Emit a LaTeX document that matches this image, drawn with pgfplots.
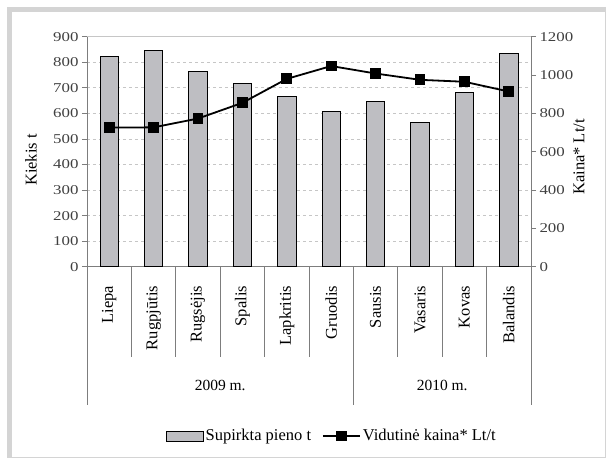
\documentclass[border=0pt]{standalone}
\usepackage{fontspec}
\setmainfont{Liberation Serif}
\newfontfamily\tickfont[FakeStretch=1.25]{Liberation Serif}
\usepackage{pgfplots}
\pgfplotsset{compat=1.18}
\definecolor{barfill}{RGB}{190,190,194}
\definecolor{framegray}{RGB}{212,212,212}
\definecolor{axisgray}{RGB}{125,125,125}

\begin{document}
\begin{tikzpicture}
\path[use as bounding box] (0,0) rectangle (606pt,459pt);
% frame round the chart
\fill[framegray] (7pt,2pt) rectangle (12pt,452pt);
\fill[framegray] (7pt,447pt) rectangle (606pt,452pt);
\draw[framegray, line width=1pt] (605pt,452pt) -- (605pt,2pt) -- (7pt,2pt);

\begin{axis}[
    at={(87pt,192.3pt)}, anchor=south west,
    scale only axis, width=444pt, height=230pt,
    xmin=-0.5, xmax=9.5, ymin=0, ymax=900,
    ytick distance=100,
    axis x line*=bottom, axis y line*=left,
    axis line style={axisgray, line width=0.8pt},
    xtick={0,...,9},
    xticklabels={Liepa,Rugpjūtis,Rugsėjis,Spalis,Lapkritis,Gruodis,Sausis,Vasaris,Kovas,Balandis},
    x tick style={draw=none},
    x tick label style={rotate=90, anchor=east, inner sep=0pt, font=\fontsize{16.5}{16.5}\selectfont},
    xticklabel shift=14pt,
    y tick style={axisgray, line width=0.8pt},
    tick align=outside, major tick length=5pt,
    y tick label style={font=\tickfont\fontsize{13.5}{13.5}\selectfont, text=black!75},
    /pgf/number format/assume math mode=true,
    ymajorgrids, grid style={dashed, gray!45, line width=0.7pt},
    ylabel={Kiekis t},
    ylabel style={at={(axis description cs:-0.126,0.464)}, anchor=center, rotate=0, font=\fontsize{16.5}{16.5}\selectfont},
    clip=false,
  ]
  \addplot[ybar, bar width=18.3pt, fill=barfill, draw=black, line width=0.9pt]
    coordinates {(0,824) (1,847) (2,764) (3,717) (4,665) (5,606) (6,648) (7,565) (8,681) (9,834)};
  \draw[gray!45, line width=0.7pt] (rel axis cs:0,1) -- (rel axis cs:1,1);
  \pgfplotsinvokeforeach{0.5,1.5,2.5,3.5,4.5,6.5,7.5,8.5}{
    \draw[axisgray, line width=0.8pt] (axis cs:#1,0) -- ++(0pt,-90.6pt);
  }
  \pgfplotsinvokeforeach{-0.5,5.5,9.5}{
    \draw[axisgray, line width=0.8pt] (axis cs:#1,0) -- ++(0pt,-138.3pt);
  }
  \node[font=\fontsize{15.5}{15.5}\selectfont] at ([yshift=-118.3pt]axis cs:2.5,0) {2009 m.};
  \node[font=\fontsize{15.5}{15.5}\selectfont] at ([yshift=-118.3pt]axis cs:7.5,0) {2010 m.};
\end{axis}

\begin{axis}[
    at={(87pt,192.3pt)}, anchor=south west,
    scale only axis, width=444pt, height=230pt,
    xmin=-0.5, xmax=9.5, ymin=0, ymax=1200,
    ytick distance=200,
    axis x line=none, axis y line*=right,
    axis line style={axisgray, line width=0.8pt},
    y tick style={axisgray, line width=0.8pt},
    tick align=outside, major tick length=5pt,
    y tick label style={font=\tickfont\fontsize{13.5}{13.5}\selectfont, text=black!75},
    /pgf/number format/assume math mode=true,
    /pgf/number format/1000 sep={},
    ylabel={Kaina* Lt/t},
    ylabel style={at={(axis description cs:1.108,0.477)}, anchor=center, rotate=0, font=\fontsize{16.5}{16.5}\selectfont},
    legend style={at={(0.177,-0.736)}, anchor=west, draw=none, fill=none, inner sep=0pt,
      font=\fontsize{16.5}{16.5}\selectfont, /tikz/every even column/.append style={column sep=9pt}},
    legend columns=2, legend cell align=left,
    clip=false,
  ]
  \addlegendimage{legend image code/.code={\draw[fill=barfill, draw=black, line width=0.9pt] (0pt,-5pt) rectangle (37pt,5pt);}}
  \addlegendentry{Supirkta pieno t}
  \addplot[black, line width=1.8pt, mark=square*, mark size=4.5pt,
    legend image code/.code={\draw[black, line width=1.8pt] (0pt,0pt) -- (37pt,0pt);
      \fill[black] (14pt,-4.5pt) rectangle (23pt,4.5pt);}]
    coordinates {(0,726) (1,727) (2,773) (3,855) (4,980) (5,1047) (6,1008) (7,975) (8,965) (9,914)};
  \addlegendentry{Vidutinė kaina* Lt/t}
\end{axis}
\end{tikzpicture}
\end{document}
